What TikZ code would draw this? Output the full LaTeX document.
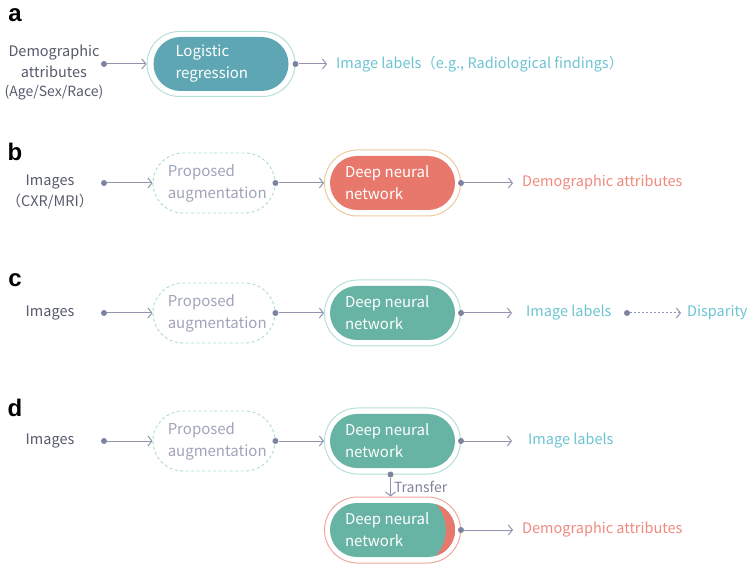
\documentclass[tikz,border=0pt]{standalone}
\usepackage{fontspec}
\usetikzlibrary{shapes.misc,arrows.meta}
\newfontfamily\jpfont{Noto Sans CJK JP}
\newfontfamily\panelfont{Liberation Sans}
\definecolor{ink}{HTML}{555A6C}
\definecolor{augtext}{HTML}{A0A3BA}
\definecolor{augline}{HTML}{A8DCCB}
\definecolor{arrowgray}{HTML}{9094AE}
\definecolor{dotgray}{HTML}{7E83A0}
\definecolor{logreg}{HTML}{5FA6B4}
\definecolor{dnnred}{HTML}{E8786C}
\definecolor{dnngreen}{HTML}{67B3A4}
\definecolor{tealline}{HTML}{B5E0D8}
\definecolor{beigeline}{HTML}{EACB9E}
\definecolor{salmonline}{HTML}{F0A89E}
\definecolor{labelblue}{HTML}{6CC3D2}
\definecolor{labelsalmon}{HTML}{F08A7F}

\begin{document}
\begin{tikzpicture}[x=1pt, y=-1pt,
    panel/.style={font=\panelfont\bfseries\fontsize{24}{24}\selectfont, inner sep=0pt},
    intext/.style={font=\jpfont\fontsize{14.5}{21}\selectfont, text=ink, align=center, inner sep=0pt},
    outerpill/.style={rounded rectangle, draw=#1, line width=1pt, fill=white,
        minimum width=136pt, minimum height=66pt, inner sep=0pt},
    innerpill/.style={rounded rectangle, fill=#1, minimum width=125pt,
        minimum height=54pt, inner sep=0pt},
    augpill/.style={rounded rectangle, draw=augline, line width=0.9pt, dash pattern=on 3pt off 2.5pt,
        minimum width=122pt, minimum height=60pt, inner sep=0pt},
    pilltext/.style={font=\jpfont\fontsize{15}{22}\selectfont, text=white, align=left,
        anchor=west, inner sep=0pt},
    outlabel/.style={font=\jpfont\fontsize{14.5}{20}\selectfont, anchor=west, inner xsep=9pt},
    dot/.style={circle, fill=dotgray, inner sep=0pt, minimum size=6pt},
    flow/.style={draw=arrowgray, line width=1pt, -{Straight Barb[length=4pt, width=10pt]}}
]
    \useasboundingbox (0,0) rectangle (748,564);

    % a
    \node[panel] (pa) at (15,15) {a};
    \node[intext] (ain) at (54,72) {Demographic\\attributes\\[-2pt]{\fontsize{14}{16}\selectfont(Age/Sex/Race)}};
    \node[dot] (adot) at (104,64) {};
    \node[outerpill=tealline, minimum width=148pt, minimum height=65pt] (aout) at (221,64) {};
    \node[innerpill=logreg, minimum width=135pt] (ainner) at (221,64) {};
    \node[pilltext] (atxt) at ([xshift=22pt]ainner.west) {Logistic\\regression};
    \node[dot] (adot2) at (aout.east) {};
    \node[outlabel, text=labelblue] (aout2) at (327,64) {Image labels（e.g., Radiological findings）};
    \draw[flow] (adot) -- (aout.west);
    \draw[flow] (adot2) -- (aout2.west);

    % b
    \node[panel] (pb) at (15,152) {b};
    \node[intext] (bin) at (50,192) {Images\\（CXR/MRI）};
    \node[dot] (bdot) at (104,183) {};
    \node[augpill] (baug) at (214,183) {};
    \node[pilltext, text=augtext] (baugtxt) at ([xshift=15pt]baug.west) {Proposed\\augmentation};
    \node[dot] (bdot2) at (baug.east) {};
    \node[outerpill=beigeline] (bout) at (392.5,183) {};
    \node[innerpill=dnnred] (binner) at (392.5,183) {};
    \node[pilltext] (btxt) at ([xshift=15pt]binner.west) {Deep neural\\network};
    \node[dot] (bdot3) at (bout.east) {};
    \node[outlabel, text=labelsalmon] (bout2) at (513,183) {Demographic attributes};
    \draw[flow] (bdot) -- (baug.west);
    \draw[flow] (bdot2) -- (bout.west);
    \draw[flow] (bdot3) -- (bout2.west);

    % c
    \node[panel] (pc) at (15,280) {c};
    \node[intext] (cin) at (50,313) {Images};
    \node[dot] (cdot) at (104,313) {};
    \node[augpill] (caug) at (214,313) {};
    \node[pilltext, text=augtext] (caugtxt) at ([xshift=15pt]caug.west) {Proposed\\augmentation};
    \node[dot] (cdot2) at (caug.east) {};
    \node[outerpill=tealline] (cout) at (392.5,313) {};
    \node[innerpill=dnngreen] (cinner) at (392.5,313) {};
    \node[pilltext] (ctxt) at ([xshift=15pt]cinner.west) {Deep neural\\network};
    \node[dot] (cdot3) at (cout.east) {};
    \node[outlabel, text=labelblue, inner xsep=14pt] (cout2) at (512,313) {Image labels};
    \node[dot] (cdot4) at (627,313) {};
    \node[outlabel, text=labelblue, inner xsep=6pt] (cdisp) at (681,313) {Disparity};
    \draw[flow] (cdot) -- (caug.west);
    \draw[flow] (cdot2) -- (cout.west);
    \draw[flow] (cdot3) -- (cout2.west);
    \draw[flow, dash pattern=on 2pt off 2pt] (cdot4) -- (cdisp.west);

    % d
    \node[panel] (pd) at (15,408) {d};
    \node[intext] (din) at (50,441) {Images};
    \node[dot] (ddot) at (104,441) {};
    \node[augpill] (daug) at (214,441) {};
    \node[pilltext, text=augtext] (daugtxt) at ([xshift=15pt]daug.west) {Proposed\\augmentation};
    \node[dot] (ddot2) at (daug.east) {};
    \node[outerpill=tealline] (dout) at (392.5,441) {};
    \node[innerpill=dnngreen] (dinner) at (392.5,441) {};
    \node[pilltext] (dtxt) at ([xshift=15pt]dinner.west) {Deep neural\\network};
    \node[dot] (ddot3) at (dout.east) {};
    \node[outlabel, text=labelblue, inner xsep=16pt] (dout2) at (512,441) {Image labels};
    \draw[flow] (ddot) -- (daug.west);
    \draw[flow] (ddot2) -- (dout.west);
    \draw[flow] (ddot3) -- (dout2.west);

    % transfer
    \node[outerpill=salmonline] (eout) at (392.5,530) {};
    \node[innerpill=dnngreen] (einner) at (392.5,530) {};
    % crescent on the right end
    \fill[dnnred] (436,504.2) arc[start angle=73, end angle=-73, radius=27pt]
        arc[start angle=-41.7, end angle=41.7, radius=39pt] -- cycle;
    \node[pilltext] (etxt) at ([xshift=15pt]einner.west) {Deep neural\\network};
    \node[dot] (edot) at ([xshift=-2pt]dout.south) {};
    \node[dot] (edot2) at (eout.east) {};
    \node[outlabel, text=labelsalmon] (eout2) at (513,530) {Demographic attributes};
    \draw[flow] (edot) -- node[right, font=\jpfont\fontsize{14}{16}\selectfont, text=dotgray, inner sep=3pt] {Transfer} (edot |- eout.north);
    \draw[flow] (edot2) -- (eout2.west);
\end{tikzpicture}
\end{document}
